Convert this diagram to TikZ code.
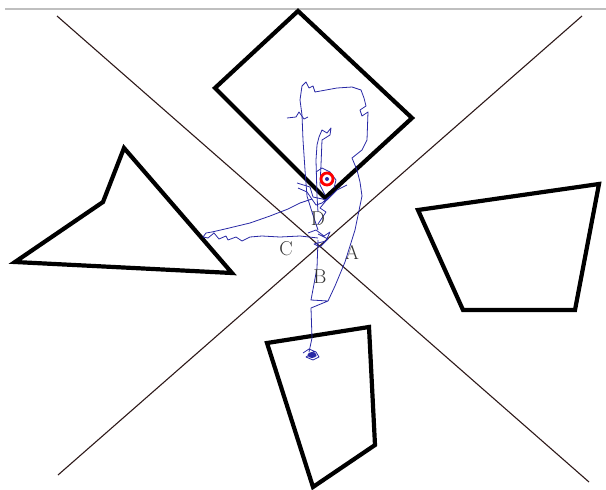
\documentclass[tikz,border=0pt]{standalone}
\usepackage{tikz}

\definecolor{trackblue}{RGB}{40,40,165}
\definecolor{axisdark}{RGB}{45,25,25}

\begin{document}
\begin{tikzpicture}[x=1pt, y=-1pt,
    wall/.style={line width=4.2pt, line join=miter},
    axis/.style={axisdark, line width=1.1pt},
    track/.style={trackblue, line width=0.8pt, line join=round},
    lbl/.style={text=black!80, font=\fontsize{20}{20}\selectfont, inner sep=0pt}]
  \useasboundingbox (0,0) rectangle (606,490);
  \draw[gray!50, line width=1.2pt] (5,9) -- (606,9);

  % the two crossing lines
  \coordinate (L1a) at (57,16);
  \coordinate (L1b) at (589,482);
  \coordinate (L2a) at (582,16);
  \coordinate (L2b) at (58,475);
  \draw[axis] (L1a) -- (L1b);
  \draw[axis] (L2a) -- (L2b);

  % arms
  \coordinate (N1) at (298,11);
  \coordinate (N2) at (412,118);
  \coordinate (N3) at (325,198);
  \coordinate (N4) at (215,88);
  \draw[wall] (N1) -- (N2) -- (N3) -- (N4) -- cycle;

  \coordinate (W1) at (124,148);
  \coordinate (W2) at (103,202);
  \coordinate (W3) at (15,262);
  \coordinate (W4) at (232,273);
  \draw[wall] (W1) -- (W2) -- (W3) -- (W4) -- cycle;

  \coordinate (E1) at (418,210);
  \coordinate (E2) at (599,184);
  \coordinate (E3) at (575,310);
  \coordinate (E4) at (463,310);
  \draw[wall] (E1) -- (E2) -- (E3) -- (E4) -- cycle;

  \coordinate (S1) at (267,343);
  \coordinate (S2) at (369,327);
  \coordinate (S3) at (375,445);
  \coordinate (S4) at (313,487);
  \draw[wall] (S1) -- (S2) -- (S3) -- (S4) -- cycle;

  % track
  \draw[track] (318,238) -- (300,236) -- (280,237) -- (262,236) -- (250,237)
    -- (242,241) -- (236,237) -- (228,240) -- (226,236) -- (219,239) -- (214,233)
    -- (208,238) -- (203,237) -- (206,233) -- (212,232) -- (225,229) -- (250,223)
    -- (270,216) -- (288,209) -- (300,203) -- (312,199);
  \draw[track] (318,240) -- (317,268) -- (311,300) -- (328,301) -- (311,308)
    -- (312,338) -- (309,352);
  \draw[track] (318,230) -- (312,212) -- (307,196) -- (305,170) -- (303,140)
    -- (302,115) -- (300,100) -- (302,86) -- (306,82) -- (309,88) -- (313,86)
    -- (315,92) -- (337,88) -- (352,87) -- (361,90) -- (364,98) -- (366,106)
    -- (360,110) -- (362,116) -- (368,112) -- (367,140) -- (362,150) -- (352,158)
    -- (357,170) -- (360,182) -- (362,196) -- (355,230) -- (345,262) -- (335,286)
    -- (328,301);
  \draw[track] (287,118) -- (296,117) -- (299,112) -- (304,119) -- (308,117);
  \draw[track] (318,212) -- (317,196) -- (316,160) -- (317,145) -- (319,137)
    -- (322,130) -- (327,133) -- (331,128) -- (330,135) -- (322,140) -- (321,165)
    -- (320,185) -- (325,195);
  \draw[track] (297,183) -- (310,187) -- (313,197) -- (327,200) -- (337,190)
    -- (347,185);
  \draw[track] (298,188) -- (307,192) -- (316,205) -- (322,203) -- (330,196)
    -- (320,208) -- (326,212) -- (318,224);
  \draw[track] (316,172) -- (322,168) -- (330,172) -- (336,180) -- (334,188);
  \draw[track] (308,233) -- (316,230) -- (324,236) -- (330,232) -- (326,241)
    -- (314,244) -- (320,247) -- (328,239) -- (318,234);
  \draw[track] (303,353) -- (309,349) -- (316,352) -- (319,357) -- (313,360)
    -- (306,357) -- (311,354) -- (316,356) -- (313,351);
  \fill[trackblue] (312,355) ellipse (4.5 and 3);

  % start marker
  \coordinate (M) at (327,179);
  \draw[red, line width=2.8pt] (M) circle (6);
  \fill[trackblue] (M) circle (2);

  % labels
  \node[lbl] (labA) at (352,252) {A};
  \node[lbl] (labB) at (320,277) {B};
  \node[lbl] (labC) at (286,249) {C};
  \node[lbl] (labD) at (318,219) {D};
\end{tikzpicture}
\end{document}
